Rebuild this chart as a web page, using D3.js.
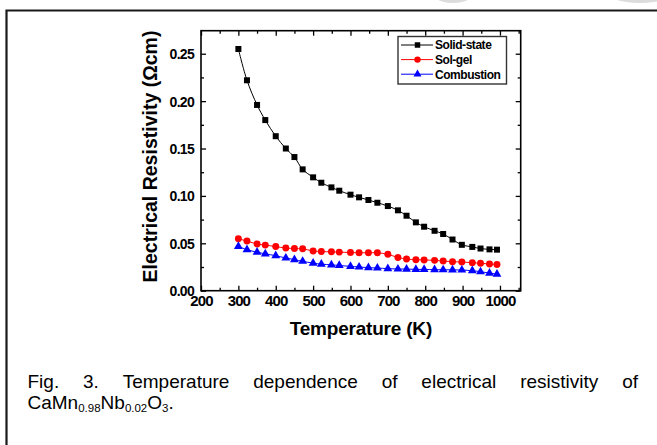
<!DOCTYPE html>
<html><head><meta charset="utf-8">
<script src="https://cdn.jsdelivr.net/npm/d3@7"></script>
<style>
html,body{margin:0;padding:0;background:#fff;}
svg{display:block;}
</style>
</head><body>
<svg id="c" width="657" height="445"></svg>
<script>
const temps = [300,323,350,372,400,427,450,472,500,522,549,570,600,623,648,672,700,727,750,775,797,825,848,873,898,926,948,972,992];
const solidState = [0.255,0.222,0.196,0.180,0.163,0.150,0.141,0.128,0.1196,0.1139,0.109,0.1055,0.1013,0.0985,0.0957,0.0928,0.0893,0.0848,0.0791,0.0721,0.0675,0.0632,0.0598,0.0540,0.0484,0.0462,0.0445,0.0436,0.0433];
const solGel = [0.0548,0.0524,0.0493,0.0481,0.0466,0.0450,0.0445,0.0442,0.0419,0.0413,0.0410,0.0407,0.0403,0.0400,0.0400,0.0400,0.0384,0.0350,0.0334,0.0327,0.0324,0.0320,0.0313,0.0306,0.0302,0.0296,0.0289,0.0282,0.0277];
const combustion = [0.0468,0.0433,0.0406,0.0389,0.0369,0.0345,0.0328,0.0310,0.0291,0.0280,0.0273,0.0266,0.0257,0.0250,0.0243,0.0239,0.0233,0.0229,0.0228,0.0225,0.0224,0.0222,0.0221,0.0220,0.0218,0.0211,0.0200,0.0186,0.0175];
const seriesNames = ["Solid-state","Sol-gel","Combustion"];
const seriesColors = ["#000000","#ff0000","#0000ff"];
const seriesSymbols = ["square","circle","triangle"];
const xMajorTicks = [200,300,400,500,600,700,800,900,1000];
const xMinorTicks = [250,350,450,550,650,750,850,950,1050];
const yMajorTicks = [0,0.05,0.10,0.15,0.20,0.25];
const yMinorTicks = [0.025,0.075,0.125,0.175,0.225];
const xTitle = "Temperature (K)";
const yTitle = "Electrical Resistivity (\u03A9cm)";
const captionWords = ["Fig.","3.","Temperature","dependence","of","electrical","resistivity","of"];

const FONT = "'Liberation Sans', Arial, Helvetica, sans-serif";
const svg = d3.select("#c");

// decorative faint shapes at top and outer border
svg.append("ellipse").attr("cx",453).attr("cy",-14).attr("rx",26).attr("ry",17).attr("fill","#dcdcdc");
svg.append("ellipse").attr("cx",640).attr("cy",-14).attr("rx",40).attr("ry",17).attr("fill","#dcdcdc");
svg.append("path").attr("d","M6.5,445 L6.5,10.5 L660,10.5").attr("fill","none").attr("stroke","#1a1a1a").attr("stroke-width",2.2);

const L = 201, R = 520.7, T = 30.7, B = 290.7;
const x = d3.scaleLinear().domain([200,1055.5]).range([L,R]);
const y = d3.scaleLinear().domain([0,0.2743]).range([B,T]);

const g = svg.append("g");

// axes with inward ticks
function axisTicks(axisGen, tr, major, minor, sizeMaj, sizeMin) {
  const a1 = g.append("g").attr("transform",tr).call(axisGen.tickValues(major).tickSize(sizeMaj).tickFormat(""));
  a1.select(".domain").remove();
  a1.selectAll("line").attr("stroke","#000").attr("stroke-width",1.3);
  const a2 = g.append("g").attr("transform",tr).call(axisGen.tickValues(minor).tickSize(sizeMin).tickFormat(""));
  a2.select(".domain").remove();
  a2.selectAll("line").attr("stroke","#000").attr("stroke-width",1.3);
}
axisTicks(d3.axisTop(x), `translate(0,${B})`, xMajorTicks, xMinorTicks, 5, 3);
axisTicks(d3.axisBottom(x), `translate(0,${T})`, xMajorTicks, xMinorTicks, 5, 3);
axisTicks(d3.axisRight(y), `translate(${L},0)`, yMajorTicks, yMinorTicks, 5, 3);
axisTicks(d3.axisLeft(y), `translate(${R},0)`, yMajorTicks, yMinorTicks, 5, 3);

g.append("rect").attr("x",L).attr("y",T).attr("width",R-L).attr("height",B-T)
  .attr("fill","none").attr("stroke","#000").attr("stroke-width",1.6);

// tick labels
const xl = g.append("g").attr("transform",`translate(0,${B})`)
  .call(d3.axisBottom(x).tickValues(xMajorTicks).tickSize(0).tickPadding(0).tickFormat(d3.format("d")));
xl.select(".domain").remove();
xl.selectAll("text").attr("y",15.5).attr("dy",0).attr("font-family",FONT).attr("font-size",15).attr("font-weight","bold")
  .attr("letter-spacing","-0.9").attr("fill","#000");

const yl = g.append("g").attr("transform",`translate(${L},0)`)
  .call(d3.axisLeft(y).tickValues(yMajorTicks).tickSize(0).tickPadding(0).tickFormat(d3.format(".2f")));
yl.select(".domain").remove();
yl.selectAll("text").attr("x",-7).attr("dy","0.36em").attr("font-family",FONT).attr("font-size",14).attr("font-weight","bold")
  .attr("letter-spacing","-0.7").attr("fill","#000");

// axis titles
g.append("text").attr("x",(L+R)/2).attr("y",335).attr("text-anchor","middle")
  .attr("font-family",FONT).attr("font-size",19).attr("font-weight","bold").attr("letter-spacing","-0.2").text(xTitle);
g.append("text").attr("transform","translate(156.5,156.5) rotate(-90)").attr("text-anchor","middle")
  .attr("font-family",FONT).attr("font-size",19.5).attr("font-weight","bold").text(yTitle);

// series
const allSeries = [solidState, solGel, combustion];
const symMap = {square:d3.symbolSquare, circle:d3.symbolCircle, triangle:d3.symbolTriangle};
const symSize = {square:36, circle:38, triangle:34};
const line = d3.line().x((d,i)=>x(temps[i])).y(d=>y(d)).curve(d3.curveCatmullRom.alpha(0.5));
allSeries.forEach((vals,k)=>{
  g.append("path").datum(vals).attr("d",line).attr("fill","none")
    .attr("stroke",seriesColors[k]).attr("stroke-width",1);
  g.append("g").selectAll("path").data(vals).join("path")
    .attr("transform",(d,i)=>`translate(${x(temps[i])},${y(d)})`)
    .attr("d",d3.symbol().type(symMap[seriesSymbols[k]]).size(symSize[seriesSymbols[k]]))
    .attr("fill",seriesColors[k]);
});

// legend
const lg = g.append("g");
lg.append("rect").attr("x",398).attr("y",36.5).attr("width",108.5).attr("height",47.5)
  .attr("fill","#fff").attr("stroke","#333").attr("stroke-width",1.4);
seriesNames.forEach((name,k)=>{
  const yy = 45 + k*14.6;
  lg.append("line").attr("x1",401).attr("x2",433).attr("y1",yy).attr("y2",yy)
    .attr("stroke",seriesColors[k]).attr("stroke-width",1);
  lg.append("path").attr("transform",`translate(417.5,${yy})`)
    .attr("d",d3.symbol().type(symMap[seriesSymbols[k]]).size(symSize[seriesSymbols[k]]-6))
    .attr("fill",seriesColors[k]);
  lg.append("text").attr("x",435).attr("y",yy).attr("dy","0.36em")
    .attr("font-family",FONT).attr("font-size",12).attr("font-weight","bold").attr("letter-spacing","-0.45")
    .text(name);
});

// caption (justified first line)
const cap = svg.append("g").attr("font-family",FONT).attr("fill","#000");
const ws = captionWords.map(w=>{
  const t = cap.append("text").attr("y",387.5).attr("font-size",19).text(w);
  return {t, w:t.node().getComputedTextLength()};
});
const x0 = 27.5, x1 = 638;
const total = d3.sum(ws,d=>d.w);
const gap = (x1-x0-total)/(ws.length-1);
let cx = x0;
ws.forEach(d=>{ d.t.attr("x",cx); cx += d.w + gap; });

const l2 = cap.append("text").attr("x",27.5).attr("y",408.8).attr("font-size",19);
l2.append("tspan").text("CaMn");
l2.append("tspan").attr("font-size",11.5).attr("dy",3).text("0.98");
l2.append("tspan").attr("dy",-3).text("Nb");
l2.append("tspan").attr("font-size",11.5).attr("dy",3).text("0.02");
l2.append("tspan").attr("dy",-3).text("O");
l2.append("tspan").attr("font-size",11.5).attr("dy",3).text("3");
l2.append("tspan").attr("dy",-3).text(".");
</script>
</body></html>
